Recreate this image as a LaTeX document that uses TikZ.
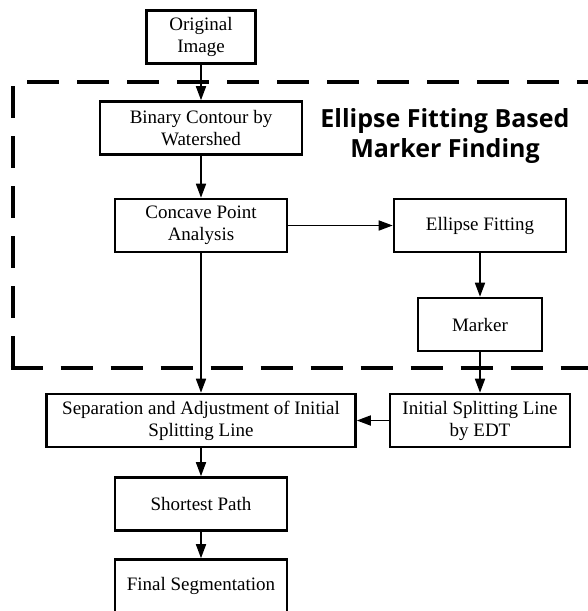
\documentclass[tikz,border=0pt]{standalone}
\usepackage{fontspec}
\setmainfont{Liberation Serif}
\newfontfamily\titlefont{Open Sans}
\usetikzlibrary{arrows.meta}

\begin{document}
\begin{tikzpicture}[x=1pt, y=-1pt, thick, >={Triangle[length=14pt,width=10pt]},
    main/.style = {draw, line width=2.6pt, inner sep=0pt, minimum height=53pt, align=center, font=\fontsize{19}{22}\selectfont},
    link/.style = {line width=1.7pt},
    frame/.style = {line width=4pt, dash pattern=on 32pt off 18pt}]

    \useasboundingbox (0,0) rectangle (587,611);

    \node [main, minimum width=109pt] (orig) at (201, 37) {Original\\Image};
    \node [main, minimum width=202pt] (bin) at (201, 128) {Binary Contour by\\Watershed};
    \node [main, minimum width=172pt] (conc) at (201, 225.5) {Concave Point\\Analysis};
    \node [main, minimum width=172pt] (ell) at (480, 225.5) {Ellipse Fitting};
    \node [main, minimum width=124pt] (mark) at (480, 324.5) {Marker};
    \node [main, minimum width=309pt] (sep) at (201, 420.5) {Separation and Adjustment of Initial\\Splitting Line};
    \node [main, minimum width=180pt] (init) at (480, 420.5) {Initial Splitting Line\\by EDT};
    \node [main, minimum width=172pt] (short) at (201, 504) {Shortest Path};
    \node [main, minimum width=172pt] (final) at (201, 586) {Final Segmentation};

    \node [inner sep=0pt, align=center, font=\titlefont\bfseries\fontsize{25}{30}\selectfont] (title) at (445, 136) {Ellipse Fitting Based\\Marker Finding};

    % dashed frame
    \draw[frame, dash phase=35.7pt] (12.7,82) -- (595,82);
    \draw[frame, dash phase=46pt] (12.7,82) -- (12.7,368);
    \draw[frame, dash phase=0pt] (10.7,368) -- (595,368);

    \draw[link, ->] (orig) to (bin);
    \draw[link, ->] (bin) to (conc);
    \draw[link, ->] (conc) to (ell);
    \draw[link, ->] (ell) to (mark);
    \draw[link, ->] (conc) to (sep);
    \draw[link, ->] (mark) to (init);
    \draw[link, ->] (init) to (sep);
    \draw[link, ->] (sep) to (short);
    \draw[link, ->] (short) to (final);

\end{tikzpicture}
\end{document}
